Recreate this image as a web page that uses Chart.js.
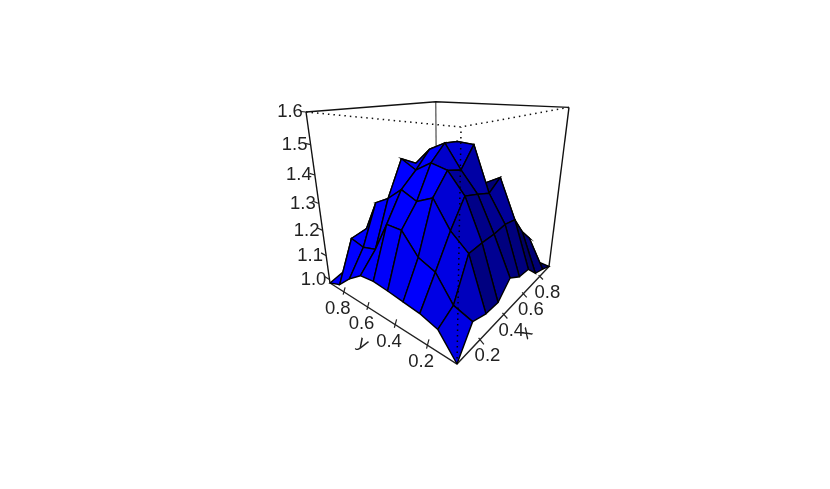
<!DOCTYPE html>
<html>
<head>
<meta charset="utf-8">
<title>Surface</title>
<script src="https://cdn.jsdelivr.net/npm/chart.js@4"></script>
<style>
  html, body { margin: 0; padding: 0; background: #fff; }
  canvas { display: block; filter: blur(0.45px); }
</style>
</head>
<body>
<canvas id="myChart" width="830" height="489"></canvas>
<script>
'use strict';

const xGrid = [0.05, 0.15, 0.25, 0.35, 0.45, 0.55, 0.65, 0.75, 0.85, 0.95];
const yGrid = [0.05, 0.15, 0.25, 0.35, 0.45, 0.55, 0.65, 0.75, 0.85, 0.95];

// one row per x, values along y
const zRow0 = [0.985, 1.062, 1.080, 1.088, 1.096, 1.102, 1.096, 1.057, 1.006, 0.985];
const zRow1 = [1.077, 1.098, 1.179, 1.203, 1.271, 1.272, 1.163, 1.149, 1.162, 1.006];
const zRow2 = [1.059, 1.231, 1.282, 1.368, 1.342, 1.367, 1.323, 1.293, 1.176, 1.036];
const zRow3 = [1.057, 1.237, 1.369, 1.436, 1.449, 1.416, 1.444, 1.262, 1.139, 1.026];
const zRow4 = [1.108, 1.239, 1.356, 1.423, 1.501, 1.473, 1.416, 1.272, 1.129, 1.026];
const zRow5 = [1.077, 1.248, 1.341, 1.493, 1.496, 1.477, 1.395, 1.272, 1.129, 1.026];
const zRow6 = [1.072, 1.241, 1.379, 1.345, 1.426, 1.426, 1.364, 1.262, 1.139, 1.036];
const zRow7 = [1.022, 1.170, 1.225, 1.241, 1.293, 1.303, 1.241, 1.170, 1.077, 1.016];
const zRow8 = [1.006, 1.118, 1.133, 1.159, 1.170, 1.170, 1.139, 1.077, 1.036, 1.006];
const zRow9 = [0.985, 0.991, 0.995, 1.006, 1.006, 1.006, 1.006, 0.995, 0.995, 0.985];
const zRows = [zRow0, zRow1, zRow2, zRow3, zRow4, zRow5, zRow6, zRow7, zRow8, zRow9];

const xTicks = [0.2, 0.4, 0.6, 0.8];
const yTicks = [0.2, 0.4, 0.6, 0.8];
const zTicks = [1.0, 1.1, 1.2, 1.3, 1.4, 1.5, 1.6];

const xRange = [0.05, 0.95];
const yRange = [0.05, 0.95];
const zRange = [0.985, 1.6];

// perspective camera of the box, box coordinates run 0..1 on each side
const camU = [377.5, 7.4, -108.3, 457];
const camV = [41.0, 34.3, -267.95, 364];
const camW = [0.52, 0.4073, -0.2437, 1];

function project(x, y, z) {
    const s = (x - xRange[0]) / (xRange[1] - xRange[0]);
    const t = (y - yRange[0]) / (yRange[1] - yRange[0]);
    const h = (z - zRange[0]) / (zRange[1] - zRange[0]);
    const w = camW[0] * s + camW[1] * t + camW[2] * h + camW[3];
    return {
        x: (camU[0] * s + camU[1] * t + camU[2] * h + camU[3]) / w,
        y: (camV[0] * s + camV[1] * t + camV[2] * h + camV[3]) / w
    };
}

const light = [-0.65, 0.25, 0.6];

function facetColor(i, j) {
    const dx = xRange[1] - xRange[0];
    const dy = yRange[1] - yRange[0];
    const dz = zRange[1] - zRange[0];
    // diagonals of the cell
    const ax = (xGrid[i + 1] - xGrid[i]) / dx, ay = (yGrid[j + 1] - yGrid[j]) / dy;
    const a = [ax, ay, (zRows[i + 1][j + 1] - zRows[i][j]) / dz];
    const b = [-ax, ay, (zRows[i][j + 1] - zRows[i + 1][j]) / dz];
    const n = [a[1] * b[2] - a[2] * b[1], a[2] * b[0] - a[0] * b[2], a[0] * b[1] - a[1] * b[0]];
    const len = Math.hypot(n[0], n[1], n[2]);
    const d = (n[0] * light[0] + n[1] * light[1] + n[2] * light[2]) / len;
    const blue = Math.min(255, Math.round(255 * Math.pow(1.08 * (1 + d) / 2, 1.1)));
    return 'rgb(0,0,' + blue + ')';
}

function lineSet(points, color, width, dash) {
    return {
        data: points,
        showLine: true,
        borderColor: color,
        borderWidth: width,
        borderDash: dash || [],
        pointRadius: 0,
        tension: 0,
        fill: false
    };
}

const xa = xRange[0], xb = xRange[1], ya = yRange[0], yb = yRange[1], za = zRange[0], zb = zRange[1];
const datasets = [];

// front of the box, drawn over the surface
datasets.push(lineSet([project(xa, yb, zb), project(xa, ya, zb), project(xb, ya, zb)], '#111', 1.5, [1.5, 4]));
datasets.push(lineSet([project(xa, ya, za), project(xa, ya, zb)], '#000', 1.5, [1.5, 4]));

// ticks
const tickLine = '#222';
yTicks.forEach(function (v) {
    datasets.push(lineSet([project(xa, v, za + 0.024), project(xa - 0.016, v, za)], tickLine, 1.2));
});
xTicks.forEach(function (v) {
    datasets.push(lineSet([project(v, ya, za + 0.012), project(v, ya - 0.028, za)], tickLine, 1.2));
});
zTicks.forEach(function (v) {
    datasets.push(lineSet([project(xa, yb, v), project(xa, yb + 0.05, v)], tickLine, 1.2));
});

// surface, nearest cell first since the first dataset ends up on top
for (let i = 0; i < xGrid.length - 1; i++) {
    for (let j = 0; j < yGrid.length - 1; j++) {
        const p0 = project(xGrid[i], yGrid[j], zRows[i][j]);
        const p1 = project(xGrid[i + 1], yGrid[j], zRows[i + 1][j]);
        const p2 = project(xGrid[i + 1], yGrid[j + 1], zRows[i + 1][j + 1]);
        const p3 = project(xGrid[i], yGrid[j + 1], zRows[i][j + 1]);
        datasets.push({
            data: [p0, p1, p2, p3, p0],
            showLine: true,
            borderColor: '#000',
            borderWidth: 1.4,
            backgroundColor: facetColor(i, j),
            pointRadius: 0,
            tension: 0,
            fill: 'shape'
        });
    }
}

// rest of the box
datasets.push(lineSet([project(xa, yb, za), project(xa, ya, za), project(xb, ya, za)], '#222', 1.4));
datasets.push(lineSet([project(xa, yb, za), project(xa, yb, zb)], '#111', 1.4));
datasets.push(lineSet([project(xb, ya, za), project(xb, ya, zb)], '#111', 1.4));
datasets.push(lineSet([project(xa, yb, zb), project(xb, yb, zb), project(xb, ya, zb)], '#111', 1.4));
datasets.push(lineSet([project(xb, yb, za), project(xb, yb, zb)], '#666', 1.4));
datasets.push(lineSet([project(xa, yb, za), project(xb, yb, za), project(xb, ya, za)], '#555', 1.2));

function putText(ctx, chart, text, p, dx, dy, angle) {
    ctx.save();
    ctx.translate(chart.scales.x.getPixelForValue(p.x) + dx, chart.scales.y.getPixelForValue(p.y) + dy);
    ctx.rotate(angle || 0);
    ctx.fillText(text, 0, 0);
    ctx.restore();
}

const axisText = {
    id: 'axisText',
    afterDatasetsDraw: function (chart) {
        const ctx = chart.ctx;
        ctx.save();
        ctx.font = '18.5px "Liberation Sans", Arial, sans-serif';
        ctx.fillStyle = '#222';
        ctx.textAlign = 'center';
        ctx.textBaseline = 'middle';
        xTicks.forEach(function (v) {
            putText(ctx, chart, v.toFixed(1), project(v, ya, za), 9, 15);
        });
        yTicks.forEach(function (v) {
            putText(ctx, chart, v.toFixed(1), project(xa, v, za), -8, 16);
        });
        zTicks.forEach(function (v) {
            putText(ctx, chart, v.toFixed(1), project(xa, yb, v), -16, 0);
        });
        putText(ctx, chart, 'x', project((xa + xb) / 2, ya, za), 14, 28, -47 * Math.PI / 180);
        putText(ctx, chart, 'y', project(xa, (ya + yb) / 2, za), -20, 27, 32 * Math.PI / 180);
        ctx.restore();
    }
};

const config = {
    type: 'scatter',
    data: { datasets: datasets },
    options: {
        responsive: false,
        animation: false,
        layout: { padding: 0 },
        plugins: { legend: { display: false }, tooltip: { enabled: false } },
        scales: {
            x: { type: 'linear', display: false, min: 0, max: 830 },
            y: { type: 'linear', display: false, min: 0, max: 489, reverse: true }
        }
    },
    plugins: [axisText]
};

const myChart = new Chart(document.getElementById('myChart'), config);
</script>
</body>
</html>
